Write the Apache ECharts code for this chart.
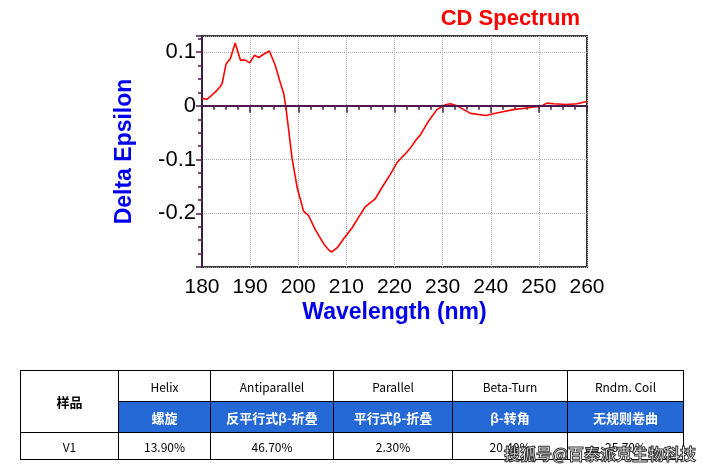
<!DOCTYPE html>
<html>
<head>
<meta charset="utf-8">
<script src="https://cdn.jsdelivr.net/npm/echarts@6/dist/echarts.min.js"></script>
<style>
html,body{margin:0;padding:0;background:#fff;}
#chart{position:absolute;left:0;top:0;width:703px;height:470px;}
#tbl{position:absolute;left:20px;top:370px;border-collapse:collapse;font-family:"Noto Sans CJK SC","Noto Sans",sans-serif;font-size:12px;color:#000;}
#tbl td{border:1px solid #000;text-align:center;padding:0;}
#tbl tr.en td{height:30px;}
#tbl tr.cn td.b{background:#2469d6;color:#fff;font-weight:bold;font-size:13px;height:30px;}
#tbl tr.v td{height:26px;}
#wm{position:absolute;left:504px;top:441px;font-family:"Noto Sans CJK SC",sans-serif;font-size:16px;font-weight:bold;color:#fff;-webkit-text-stroke:1px #333;letter-spacing:0px;}
</style>
</head>
<body>
<div id="chart"></div>
<table id="tbl"></table>
<div id="wm">搜狐号@百泰派克生物科技</div>
<script>
// ---- data ----
const wavelength = [180,181,181.7,182.8,183.8,184.2,185,185.9,186.9,188,189,189.9,190.9,191.8,192.8,194,194.3,195.2,196.1,197,197.4,198,198.7,199.8,201.1,202.2,203.5,205.3,206.3,207,208.1,209.4,211.2,212.5,213.9,215,216,217.4,219.1,220.5,221.2,222.2,223.5,224.5,225.4,226.8,228.8,230.6,231.6,233,235.8,238.9,242,244.7,247.5,248.9,250.3,251.7,253.1,255.8,257.9,260];
const epsilon = [0.014,0.012,0.017,0.026,0.036,0.042,0.078,0.088,0.117,0.085,0.085,0.080,0.094,0.090,0.096,0.102,0.101,0.076,0.048,0.022,-0.001,-0.044,-0.097,-0.153,-0.196,-0.205,-0.230,-0.257,-0.268,-0.272,-0.264,-0.248,-0.227,-0.208,-0.188,-0.180,-0.173,-0.152,-0.128,-0.106,-0.099,-0.090,-0.076,-0.063,-0.054,-0.032,-0.007,0.002,0.004,0,-0.014,-0.018,-0.012,-0.007,-0.004,-0.002,-0.001,0.005,0.004,0.0025,0.004,0.008];
const xTicks = [180,190,200,210,220,230,240,250,260];
const yTickLabels = ['0.1','0','-0.1','-0.2'];

const tableEnHeaders = ['Helix','Antiparallel','Parallel','Beta-Turn','Rndm. Coil'];
const tableCnHeaders = ['螺旋','反平行式β-折叠','平行式β-折叠','β-转角','无规则卷曲'];
const sampleNames = ['V1'];
const sampleValues = [['13.90%','46.70%','2.30%','20.40%','25.70%']];
const colWidths = [98,92,123,119,115,116];

// ---- table ----
(function(){
  const t = document.getElementById('tbl');
  let cg = '<colgroup>' + colWidths.map(w=>'<col style="width:'+w+'px">').join('') + '</colgroup>';
  let h = cg;
  h += '<tr class="en"><td rowspan="2" style="font-weight:bold;font-size:13px;">样品</td>' + tableEnHeaders.map(s=>'<td>'+s+'</td>').join('') + '</tr>';
  h += '<tr class="cn">' + tableCnHeaders.map(s=>'<td class="b">'+s+'</td>').join('') + '</tr>';
  sampleNames.forEach((n,i)=>{
    h += '<tr class="v"><td>'+n+'</td>' + sampleValues[i].map(s=>'<td>'+s+'</td>').join('') + '</tr>';
  });
  t.innerHTML = h;
})();

// ---- chart ----
const chart = echarts.init(document.getElementById('chart'), null, {renderer:'canvas'});
const purple = '#4a1a4a';
const fontF = '"Liberation Sans", Arial, sans-serif';
chart.setOption({
  animation:false,
  backgroundColor:'#fff',
  title:{
    text:'CD Spectrum', right:118, top:3,
    textStyle:{color:'#ff0000', fontSize:22, fontWeight:'bold', fontFamily:fontF}
  },
  grid:{left:202, right:116, top:36, bottom:203, show:true, borderColor:'#3a3a3a', borderWidth:2, backgroundColor:'transparent'},
  xAxis:{
    type:'value', min:180, max:260, interval:10,
    name:'Wavelength (nm)', nameLocation:'middle', nameGap:34,
    nameTextStyle:{color:'#0000ee', fontSize:23, fontWeight:'bold', fontFamily:fontF},
    axisLine:{show:true, lineStyle:{color:'#3a3a3a', width:2}},
    axisTick:{show:true, inside:false, length:7, lineStyle:{color:purple, width:1.5}},
    minorTick:{show:true, splitNumber:4, length:4, lineStyle:{color:purple, width:1.5}},
    axisLabel:{color:'#000', fontSize:21, fontFamily:fontF, margin:10,
      formatter:function(v){ return xTicks.indexOf(Math.round(v))>=0 ? String(Math.round(v)) : ''; }},
    splitLine:{show:true, lineStyle:{color:'#aaaaaa', type:'dotted', width:1}}
  },
  yAxis:{
    type:'value', min:-0.3, max:0.13, interval:0.1,
    name:'Delta Epsilon', nameLocation:'middle', nameGap:66, nameRotate:90,
    nameTextStyle:{color:'#0000ee', fontSize:23, fontWeight:'bold', fontFamily:fontF},
    axisLine:{show:true, lineStyle:{color:'#3a2040', width:2}},
    axisTick:{show:true, inside:false, length:6, lineStyle:{color:purple, width:1.5}},
    minorTick:{show:true, splitNumber:4, length:4, lineStyle:{color:purple, width:1.5}},
    axisLabel:{color:'#000', fontSize:22, fontFamily:fontF, margin:6, showMinLabel:false, showMaxLabel:false,
      formatter:function(v){
        const r = Math.round(v*10)/10;
        const s = r===0 ? '0' : String(r);
        return yTickLabels.indexOf(s)>=0 ? s : '';
      }},
    splitLine:{show:true, lineStyle:{color:'#aaaaaa', type:'dotted', width:1}}
  },
  series:[{
    type:'line',
    data:wavelength.map((w,i)=>[w, epsilon[i]]),
    showSymbol:false, symbol:'none',
    lineStyle:{color:'#ff0000', width:1.6},
    markLine:{
      silent:true, symbol:['none','none'], label:{show:false},
      lineStyle:{color:'#501850', width:2, type:'solid'},
      data:[{yAxis:0}]
    },
    z:3
  }]
});
</script>
</body>
</html>
